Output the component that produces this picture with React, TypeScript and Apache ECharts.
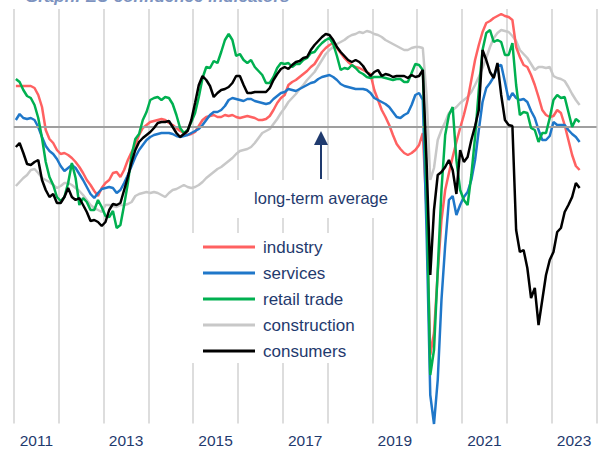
import React, { useEffect, useRef } from "react";
import * as echarts from "echarts";

const yearLabels = ["2011", "", "2013", "", "2015", "", "2017", "", "2019", "", "2021", "", "2023"];
const seriesNames = ["industry", "services", "retail trade", "construction", "consumers"];

// monthly, Jan 2011 - Aug 2023 (deviation from long-term average, arbitrary units)
const industry = [
  4.1, 4.1, 4.1, 4.1, 4.1, 3.9, 3.2, 2.0, -0.3, -1.2, -1.6, -2.3,
  -2.7, -2.6, -2.8, -3.1, -3.5, -4.0, -4.6, -5.3, -5.8, -6.4, -6.9, -6.1,
  -5.6, -5.3, -4.6, -4.5, -5.0, -4.3, -3.3, -2.5, -1.8, -0.8, -0.1, 0.2,
  0.5, 0.6, 0.7, 0.8, 0.7, 0.4, 0.2, -0.1, -0.4, -0.6, -0.8, -0.7,
  -0.5, 0.1, 0.7, 1.0, 1.1, 1.2, 1.0, 1.0, 1.2, 1.1, 1.2, 1.0,
  0.9, 1.0, 1.1, 1.0, 0.9, 0.7, 0.7, 0.8, 1.1, 1.7, 2.4, 2.9,
  3.2, 4.2, 4.5, 4.7, 5.0, 5.3, 5.6, 6.0, 6.3, 6.9, 7.5, 7.9,
  8.2, 8.4, 7.9, 7.4, 6.9, 6.5, 6.2, 6.0, 5.9, 5.7, 5.5, 5.3,
  3.7, 2.7, 1.7, 1.0, 0.2, -0.8, -1.7, -2.2, -2.6, -2.8, -2.6, -2.3,
  -1.8, -0.6, -8.3, -22.8, -20.6, -14.6, -9.3, -6.3, -4.6, -3.0, -1.5, -0.1,
  1.2, 2.7, 4.7, 6.7, 8.2, 9.5, 10.4, 10.6, 10.9, 11.1, 11.3, 11.1,
  11.0, 10.7, 8.0, 7.0, 6.2, 6.0, 5.2, 4.2, 3.0, 1.7, 1.2, 1.0,
  1.1, 1.7, 1.4, 0.2, -1.3, -2.8, -3.9, -4.3,
];
const services = [
  0.7, 1.3, 0.9, 0.8, 0.9, 0.7, 0.0, -1.0, -1.9, -2.4, -2.7, -3.2,
  -3.9, -4.4, -4.1, -3.8, -4.1, -4.7, -5.3, -6.0, -6.7, -7.1, -6.6, -6.2,
  -6.1, -6.0, -6.1, -6.6, -6.3, -5.6, -4.8, -3.9, -3.0, -2.3, -1.8, -1.3,
  -1.0, -0.8, -0.7, -0.6, -0.6, -0.6, -0.7, -0.9, -1.0, -0.9, -0.8, -0.6,
  -0.4, -0.2, 0.2, 0.7, 1.2, 1.5, 1.5, 1.7, 2.1, 2.7, 2.9, 2.8,
  2.7, 2.6, 2.8, 2.8, 2.6, 2.5, 2.4, 2.3, 2.4, 2.8, 3.1, 3.4,
  3.5, 3.8, 3.7, 3.6, 3.8, 4.0, 4.2, 4.4, 4.5, 4.8, 5.0, 5.1,
  5.2, 5.0, 4.7, 4.3, 4.1, 4.0, 3.9, 3.8, 3.8, 3.8, 3.7, 3.4,
  2.9, 2.7, 2.5, 2.3, 2.0, 1.5, 1.0, 0.9, 1.2, 1.4, 2.2, 3.2,
  3.4, 2.7, -10.3, -26.8, -29.7, -25.3, -17.3, -11.8, -7.3, -6.9, -8.8, -7.8,
  -7.0, -6.5, -5.3, -3.3, -0.3, 2.5, 3.9, 4.4, 5.0, 6.1, 6.2, 4.5,
  2.7, 3.4, 2.9, 2.7, 2.8, 2.5, 1.6, 0.9, -0.3, -1.3, -1.3, -0.9,
  0.5, 0.2, 0.2, 0.2, -0.3, -0.7, -1.0, -1.5,
];
const retail = [
  4.8, 4.5, 3.7, 3.1, 2.9, 2.2, 0.9, -1.1, -3.5, -5.0, -5.8, -7.0,
  -7.4, -7.0, -5.6, -3.6, -5.1, -7.8, -7.1, -7.5, -8.3, -8.3, -7.3, -8.0,
  -8.9, -9.0, -8.4, -10.1, -9.8, -7.8, -5.6, -2.8, -1.2, -0.7, 0.7, 1.5,
  2.7, 2.9, 3.0, 2.7, 3.0, 2.9, 2.3, 1.2, -0.1, -0.6, -0.3, 0.5,
  1.4, 3.0, 4.9, 6.0, 5.9, 6.6, 6.4, 7.5, 8.7, 9.3, 8.7, 7.1,
  7.3, 6.7, 6.4, 6.7, 6.0, 5.6, 5.2, 4.4, 4.4, 5.0, 5.9, 6.4,
  6.3, 6.4, 6.0, 6.3, 6.3, 6.7, 6.9, 7.4, 7.5, 8.0, 8.4, 8.7,
  8.9, 8.3, 7.1, 5.7, 5.9, 5.8, 6.2, 5.9, 5.5, 5.3, 5.0, 4.9,
  5.0, 5.0, 5.0, 4.9, 4.8, 4.7, 4.8, 4.8, 4.5, 4.5, 5.4, 6.3,
  6.2, 5.7, -6.3, -24.8, -22.3, -14.3, -6.3, -0.8, 1.2, 2.0, -3.3, -6.3,
  -7.3, -7.8, -4.8, -1.0, 3.7, 7.7, 9.4, 9.7, 8.5, 8.7, 8.5, 7.2,
  7.2, 8.4, 4.2, 1.2, 1.5, 1.4, -0.1, -0.3, -1.5, -0.6, -0.6, 0.9,
  2.7, 3.2, 2.9, 3.0, 1.5, 0.0, 0.8, 0.5,
];
const construction = [
  -5.9, -5.5, -5.1, -4.8, -4.3, -4.2, -4.6, -5.1, -5.3, -5.5, -5.8, -6.1,
  -5.9, -5.6, -5.6, -5.8, -6.1, -6.4, -6.8, -7.3, -7.8, -8.1, -8.3, -8.5,
  -7.8, -7.8, -7.9, -8.0, -7.8, -7.8, -7.7, -7.5, -6.9, -6.7, -6.6, -6.5,
  -6.6, -6.5, -6.6, -6.8, -7.0, -6.6, -6.3, -6.2, -6.0, -5.8, -6.0, -6.1,
  -6.0, -5.8, -5.5, -5.1, -4.8, -4.5, -4.2, -4.0, -3.7, -3.4, -3.1, -2.7,
  -2.4, -2.3, -2.2, -2.0, -1.6, -1.1, -0.6, -0.4, -0.2, 0.3, 0.8, 1.4,
  1.9, 2.5, 2.9, 3.3, 3.8, 4.2, 4.7, 5.1, 5.5, 6.1, 6.7, 7.3,
  7.7, 8.0, 8.3, 8.5, 8.7, 9.0, 9.2, 9.3, 9.5, 9.4, 9.6, 9.5,
  9.3, 9.2, 9.0, 8.7, 8.5, 8.3, 8.1, 7.9, 7.7, 7.7, 7.9, 8.0,
  8.0, 7.9, 3.2, -5.3, -4.1, -1.3, -0.3, 0.5, 1.4, 1.7, 2.0, 2.4,
  2.7, 3.0, 3.5, 4.2, 5.0, 5.9, 6.9, 8.0, 8.9, 9.4, 9.7, 9.6,
  9.5, 9.1, 8.6, 7.7, 7.3, 6.9, 6.3, 5.7, 6.0, 6.0, 5.9, 6.0,
  5.1, 4.9, 4.8, 4.6, 4.0, 3.3, 2.7, 2.2,
];
const consumers = [
  -2.0, -1.6, -2.6, -3.7, -3.8, -3.5, -3.3, -5.3, -6.3, -7.0, -6.7, -7.6,
  -7.6, -7.0, -6.1, -7.0, -7.3, -7.1, -7.8, -8.5, -9.4, -9.3, -9.5, -9.9,
  -9.5, -8.3, -7.7, -7.8, -7.6, -6.3, -5.0, -3.5, -2.3, -1.5, -1.1, -0.8,
  -0.5, -0.1, 0.4, 0.5, 0.5, 0.6, 0.0, -0.6, -1.0, -0.7, -0.4, 0.7,
  2.4, 4.2, 5.1, 4.7, 4.1, 3.0, 3.4, 3.7, 3.8, 4.0, 4.4, 5.1,
  5.1, 4.2, 3.4, 3.4, 3.5, 3.5, 3.5, 3.5, 3.9, 4.7, 5.3, 5.8,
  6.0, 5.8, 6.2, 6.5, 6.6, 6.9, 7.0, 7.7, 8.2, 8.6, 9.0, 9.3,
  9.2, 8.7, 8.0, 7.5, 7.1, 6.7, 6.5, 6.7, 6.5, 6.1, 5.5, 5.1,
  5.5, 5.7, 5.1, 5.3, 5.2, 5.0, 5.1, 5.1, 5.1, 4.9, 5.2, 5.0,
  5.1, 5.7, -3.3, -14.8, -8.3, -4.8, -4.5, -4.0, -3.3, -4.3, -6.7, -2.3,
  -3.5, -3.0, -1.3, 0.1, 1.7, 7.7, 6.7, 5.5, 4.9, 6.4, 3.2, 0.7,
  0.2, 0.1, -10.3, -12.5, -12.3, -14.1, -17.1, -16.1, -19.8, -17.3, -14.8, -13.3,
  -12.5, -10.5, -10.1, -8.5, -7.8, -7.0, -5.6, -6.1,
];

const colors = ["#ff6161", "#1f77c9", "#00b050", "#c8c8c8", "#000000"];
const NAVY = "#1f3a6e";
const FONT = "'Liberation Sans', Arial, sans-serif";

const monthX = (i: number) => 2011 + (i + 0.5) / 12;
const toPairs = (arr: number[]) => arr.map((v, i) => [monthX(i), v]);

export default function App() {
  const ref = useRef<HTMLDivElement>(null);
  useEffect(() => {
    if (!ref.current) return;
    const chart = echarts.init(ref.current, undefined, { renderer: "svg" });
    const dataSets = [industry, services, retail, construction, consumers];
    const drawOrder = [3, 0, 1, 2, 4];
    const series: any[] = drawOrder.map((k, n) => ({
      name: seriesNames[k],
      type: "line",
      xAxisIndex: 0,
      yAxisIndex: 0,
      data: toPairs(dataSets[k]),
      showSymbol: false,
      symbol: "none",
      clip: false,
      z: 2 + n,
      color: colors[k],
      lineStyle: { color: colors[k], width: 2.5 },
      ...(n === 0
        ? {
            markLine: {
              silent: true,
              symbol: ["none", "none"],
              label: { show: false },
              lineStyle: { color: "#9f9f9f", width: 2, type: "solid" },
              data: [{ yAxis: 0 }],
            },
          }
        : {}),
    }));
    chart.setOption({
      animation: false,
      backgroundColor: "#ffffff",
      grid: { left: 14, right: 8.6, top: 9, bottom: 26.5, containLabel: false },
      xAxis: [
        {
          type: "value",
          min: 2011,
          max: 2024,
          interval: 1,
          axisLine: { show: true, lineStyle: { color: "#c4c4c4", width: 1.5 } },
          axisTick: { show: false },
          axisLabel: { show: false },
          splitLine: { show: true, lineStyle: { color: "#d2d2d2", width: 1.5 } },
        },
        {
          type: "category",
          position: "bottom",
          data: yearLabels,
          boundaryGap: true,
          axisLine: { show: false },
          axisTick: { show: false },
          splitLine: { show: false },
          axisLabel: { interval: 0, color: NAVY, fontSize: 15.5, fontFamily: FONT, margin: 9 },
        },
      ],
      yAxis: {
        type: "value",
        min: -29.65,
        max: 11.8,
        axisLine: { show: false },
        axisTick: { show: false },
        axisLabel: { show: false },
        splitLine: { show: false },
      },
      legend: {
        orient: "vertical",
        left: 185,
        top: 233,
        padding: [5, 12, 3, 18],
        backgroundColor: "#ffffff",
        itemWidth: 52,
        itemHeight: 3,
        itemGap: 8,
        icon: "rect",
        data: seriesNames,
        textStyle: { fontSize: 17, lineHeight: 18, color: NAVY, fontFamily: FONT, padding: [0, 0, 0, 3] },
      },
      graphic: [
        {
          type: "text",
          x: 25,
          y: 5,
          silent: true,
          style: {
            text: "Graph: EU confidence indicators",
            fill: "#7d93c0",
            font: `italic bold 17px ${FONT}`,
            verticalAlign: "bottom",
          },
        },
        {
          type: "rect",
          z: 1,
          silent: true,
          shape: { x: 236, y: 180, width: 162, height: 38 },
          style: { fill: "#ffffff" },
        },
        {
          type: "line",
          z: 10,
          silent: true,
          shape: { x1: 321, y1: 143, x2: 321, y2: 179 },
          style: { stroke: NAVY, lineWidth: 2 },
        },
        {
          type: "polygon",
          z: 10,
          silent: true,
          shape: { points: [[314, 145], [328, 145], [321, 131]] },
          style: { fill: NAVY },
        },
        {
          type: "text",
          z: 10,
          x: 321,
          y: 198,
          silent: true,
          style: {
            text: "long-term average",
            fill: NAVY,
            font: `16.5px ${FONT}`,
            align: "center",
            verticalAlign: "middle",
          },
        },
      ],
      series,
    });
    return () => chart.dispose();
  }, []);
  return (
    <div
      ref={ref}
      style={{ position: "fixed", left: 0, top: 0, width: 605, height: 450, background: "#fff" }}
    />
  );
}
